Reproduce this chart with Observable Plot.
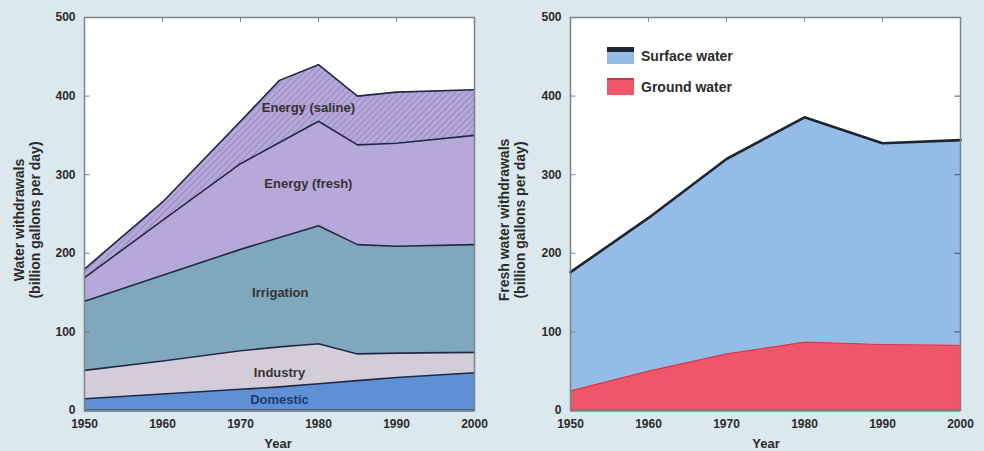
<!DOCTYPE html>
<html>
<head>
<meta charset="utf-8">
<script src="https://cdn.jsdelivr.net/npm/d3@7"></script>
<script src="https://cdn.jsdelivr.net/npm/@observablehq/plot@0.6"></script>
<style>
  html, body { margin: 0; padding: 0; background: #dbe8ee; }
  #root { position: relative; width: 984px; height: 451px; overflow: hidden; background: #dbe8ee;
          font-family: "Liberation Sans", Arial, Helvetica, sans-serif; color: #2b2b2b; }
  .ylab { position: absolute; white-space: nowrap; font-weight: bold; font-size: 14px; line-height: 16px;
          transform: translate(-50%, -50%) rotate(-90deg); text-align: center; }
  .xlab { position: absolute; font-weight: bold; font-size: 13px; transform: translate(-50%, -50%); }
  .leg { position: absolute; font-weight: bold; font-size: 14px; transform: translateY(-50%); }
</style>
</head>
<body>
<div id="root"></div>
<script>
// ---------- data ----------
const yearTicks = [1950, 1960, 1970, 1980, 1990, 2000];
const valueTicks = [0, 100, 200, 300, 400, 500];

const leftYears = [1950, 1960, 1970, 1975, 1980, 1985, 1990, 2000];
const layers = ["Domestic", "Industry", "Irrigation", "Energy (fresh)", "Energy (saline)"];
const domestic     = [15, 21, 27, 30, 34, 38, 42, 48];
const industry     = [36, 42, 49, 51, 51, 34, 31, 26];
const irrigation   = [88, 109, 129, 139, 150, 139, 136, 137];
const energyFresh  = [30, 70, 109, 121, 133, 127, 131, 139];
const energySaline = [11, 23, 54, 79, 72, 62, 65, 58];

const areaLabels = ["Energy (saline)", "Energy (fresh)", "Irrigation", "Industry", "Domestic"];
const labelYears  = [1978.7, 1978.7, 1975.1, 1975, 1975];
const labelValues = [385, 288, 150, 48, 13];

const rightYears = [1950, 1960, 1970, 1980, 1990, 2000];
const sources = ["Ground water", "Surface water"];
const groundWater  = [25, 50, 72, 87, 84, 83];
const surfaceWater = [151, 195, 248, 286, 256, 261];

// ---------- build tables ----------
const leftSeries = [domestic, industry, irrigation, energyFresh, energySaline];
const leftData = [];
layers.forEach((name, i) => leftYears.forEach((yr, j) => leftData.push({year: yr, layer: name, value: leftSeries[i][j]})));
const labelData = areaLabels.map((t, i) => ({text: t, year: labelYears[i], value: labelValues[i]}));

const rightSeries = [groundWater, surfaceWater];
const rightData = [];
sources.forEach((name, i) => rightYears.forEach((yr, j) => rightData.push({year: yr, layer: name, value: rightSeries[i][j]})));

const innerY = valueTicks.slice(1, -1);
const innerX = yearTicks.slice(1, -1);
const font = "'Liberation Sans', Arial, Helvetica, sans-serif";

function axes() {
  return [
    Plot.axisX({anchor: "bottom", ticks: yearTicks, tickFormat: d => String(d), tickSize: 0, tickPadding: 9,
                fontSize: 12, fontWeight: "bold", fill: "#2b2b2b", label: null}),
    Plot.axisY({anchor: "left", ticks: valueTicks, tickSize: 0, tickPadding: 9,
                fontSize: 12, fontWeight: "bold", fill: "#2b2b2b", label: null})
  ];
}

// ---------- left chart ----------
const left = Plot.plot({
  width: 490, height: 451,
  marginLeft: 84, marginRight: 16, marginTop: 17, marginBottom: 41,
  style: {background: "transparent", fontFamily: font, overflow: "visible"},
  x: {domain: [1950, 2000], label: null},
  y: {domain: [0, 500], label: null},
  color: {domain: layers, range: ["#5f90d3", "#d3ccd9", "#80a8bc", "#b6a9d9", "url(#hatch)"]},
  marks: [
    Plot.frame({fill: "white", stroke: null}),
    Plot.areaY(leftData, {x: "year", y: "value", z: "layer", fill: "layer", order: layers}),
    Plot.lineY(leftData, Plot.stackY2({x: "year", y: "value", z: "layer", order: layers,
               stroke: "#1f2946", strokeWidth: 1.6})),
    Plot.ruleY([0], {stroke: "#1f2946", strokeWidth: 2}),
    Plot.ruleY(innerY, {y: d => d, x1: 1950, x2: 1950.7, stroke: "#777"}),
    Plot.ruleX(innerX, {x: d => d, y1: 500, y2: 494, stroke: "#777"}),
    Plot.text(labelData, {x: "year", y: "value", text: "text", fontSize: 13, fontWeight: "bold",
              fill: d => d.text === "Domestic" ? "#1d3a72" : "#333"}),
    Plot.frame({stroke: "#7d8288", strokeWidth: 1.5}),
    ...axes()
  ]
});

// hatch pattern for saline energy
const ns = "http://www.w3.org/2000/svg";
const defs = document.createElementNS(ns, "defs");
defs.innerHTML = `<pattern id="hatch" patternUnits="userSpaceOnUse" width="4.5" height="4.5" patternTransform="rotate(45)">
  <rect width="4.5" height="4.5" fill="#b6a9d9"></rect>
  <line x1="0.5" y1="0" x2="0.5" y2="4.5" stroke="#9488c0" stroke-width="1"></line></pattern>`;
left.insertBefore(defs, left.firstChild);

// ---------- right chart ----------
const right = Plot.plot({
  width: 494, height: 451,
  marginLeft: 80, marginRight: 24, marginTop: 17, marginBottom: 41,
  style: {background: "transparent", fontFamily: font, overflow: "visible"},
  x: {domain: [1950, 2000], label: null},
  y: {domain: [0, 500], label: null},
  color: {domain: sources, range: ["#f05669", "#93bce6"]},
  marks: [
    Plot.frame({fill: "white", stroke: null}),
    Plot.areaY(rightData, {x: "year", y: "value", z: "layer", fill: "layer", order: sources}),
    Plot.lineY(rightData, Plot.stackY2({x: "year", y: "value", z: "layer", order: sources,
               stroke: d => d.layer === "Surface water" ? "#1d2530" : "#d23a4e",
               strokeWidth: d => d.layer === "Surface water" ? 2.6 : 1.2})),
    Plot.ruleY([0], {stroke: "#c73a4c", strokeWidth: 2}),
    Plot.ruleY(innerY, {y: d => d, x1: 1950, x2: 1950.7, stroke: "#888"}),
    Plot.ruleY(innerY, {y: d => d, x1: 1999.3, x2: 2000, stroke: "#556"}),
    Plot.ruleX(innerX, {x: d => d, y1: 500, y2: 494, stroke: "#888"}),
    Plot.frame({stroke: "#7d8288", strokeWidth: 1.5}),
    ...axes()
  ]
});

// ---------- assemble ----------
const root = document.getElementById("root");
const wrapL = document.createElement("div");
wrapL.style.cssText = "position:absolute;left:0;top:0;";
wrapL.appendChild(left);
const wrapR = document.createElement("div");
wrapR.style.cssText = "position:absolute;left:490px;top:0;";
wrapR.appendChild(right);
root.appendChild(wrapL);
root.appendChild(wrapR);

function addHTML(html) { root.insertAdjacentHTML("beforeend", html); }
addHTML(`<div class="ylab" style="left:27px;top:220px;">Water withdrawals<br>(billion gallons per day)</div>`);
addHTML(`<div class="ylab" style="left:512px;top:220px;">Fresh water withdrawals<br>(billion gallons per day)</div>`);
addHTML(`<div class="xlab" style="left:278px;top:443px;">Year</div>`);
addHTML(`<div class="xlab" style="left:766px;top:443px;">Year</div>`);
// legend
addHTML(`<div style="position:absolute;left:607px;top:47px;width:27px;height:17px;background:#93bce6;border-top:5px solid #1d2530;box-sizing:border-box;"></div>`);
addHTML(`<div class="leg" style="left:641px;top:56px;">Surface water</div>`);
addHTML(`<div style="position:absolute;left:607px;top:78px;width:27px;height:17px;background:#f05669;border-top:2px solid #c73a4c;box-sizing:border-box;"></div>`);
addHTML(`<div class="leg" style="left:641px;top:87px;">Ground water</div>`);
</script>
</body>
</html>
